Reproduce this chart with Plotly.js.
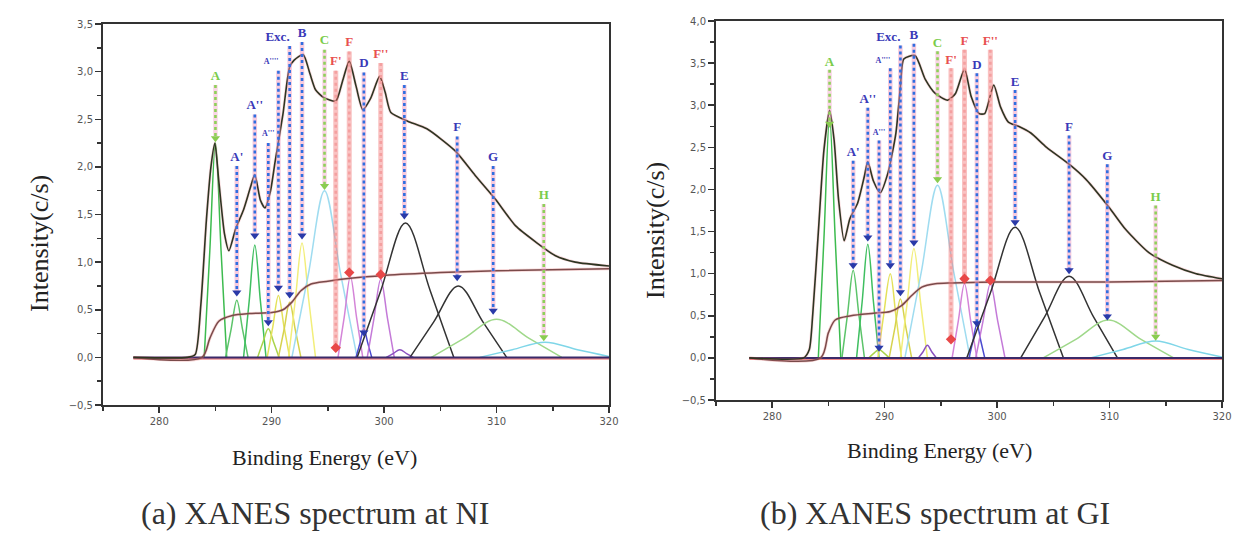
<!DOCTYPE html>
<html><head><meta charset="utf-8">
<script src="https://cdn.plot.ly/plotly-3.0.1.min.js"></script>
<style>html,body{margin:0;padding:0;background:#fff}#chart{width:1237px;height:537px}</style>
</head><body><div id="chart"></div>
<script>
// ================= (a) NI =================
const niEnergy = [277.7,282.5,283.2,283.7,284.2,284.6,284.95,285.3,285.8,286.2,286.8,287.5,288.1,288.5,289.0,289.4,289.9,290.3,291.0,291.6,292.0,292.8,293.4,293.9,294.6,295.7,296.3,296.9,297.5,298.1,298.8,299.6,300.1,300.6,302.1,303.8,306.3,308.1,309.9,311.7,313.5,315.2,317.0,320.0];
const niIntensity = [0,0,0.03,0.55,1.45,2.0,2.25,1.85,1.3,1.12,1.35,1.55,1.78,1.92,1.65,1.57,1.75,2.05,2.55,3.05,3.12,3.18,2.98,2.81,2.73,2.69,2.9,3.11,2.85,2.6,2.72,2.95,2.78,2.57,2.48,2.4,2.17,1.91,1.66,1.38,1.21,1.07,1.0,0.96];
const niStepX = [277.7,283.8,284.5,285.3,286.5,288.0,290.0,291.0,291.8,292.6,293.5,295.0,297.0,300.0,305.0,310.0,320.0];
const niStepY = [0,0,0.2,0.38,0.44,0.46,0.47,0.5,0.58,0.7,0.77,0.8,0.83,0.86,0.89,0.91,0.93];
const niBaseX = [277.7,320];
const niBaseY = [0,0];
const niCompX = [
 [284.0,284.5,285.0,285.5,286.0],
 [285.9,286.4,286.9,287.4,287.9],
 [287.5,288.0,288.5,289.0,289.5],
 [288.75,289.2,289.7,290.2,290.65],
 [289.6,290.1,290.6,291.1,291.6],
 [290.6,291.1,291.6,292.1,292.6],
 [291.5,292.1,292.7,293.3,293.9],
 [291.8,293.26,294.7,296.14,297.6],
 [295.9,296.45,297.0,297.55,298.1],
 [297.5,297.85,298.2,298.55,298.9],
 [298.5,299.1,299.7,300.3,300.9],
 [300.2,300.8,301.4,302.0,302.6],
 [297.6,299.7,301.9,304.1,306.2],
 [302.3,304.4,306.6,308.8,310.9],
 [304.2,307.1,310.0,312.9,315.8],
 [308.5,311.4,314.3,317.2,320.0]];
const niCompY = [
 [0,1.12,2.25,1.12,0],
 [0,0.3,0.6,0.3,0],
 [0,0.59,1.18,0.59,0],
 [0,0.15,0.3,0.15,0],
 [0,0.32,0.65,0.32,0],
 [0,0.29,0.58,0.29,0],
 [0,0.6,1.2,0.6,0],
 [0,0.87,1.75,0.87,0],
 [0,0.42,0.85,0.42,0],
 [0,0.15,0.3,0.15,0],
 [0,0.41,0.82,0.41,0],
 [0,0.04,0.08,0.04,0],
 [0,0.7,1.41,0.7,0],
 [0,0.37,0.75,0.37,0],
 [0,0.2,0.4,0.2,0],
 [0,0.08,0.16,0.08,0.01]];
const niCompColors = ['#3dbb4f','#5cc46a','#3fbf60','#a9d44a','#e4e15a','#d6d24e','#f2ee7a','#9fdcf0','#d484d8','#4a4ad0','#c47ad8','#8a50c0','#333333','#333333','#9fd88a','#7fd6e8'];
const niArrowLabels = ['A',"A'","A''","A'''","A''''",'Exc.','B','C',"F'",'F','D',"F''",'E','F','G','H'];
const niArrowX   = [285.0,286.9,288.5,289.7,290.6,291.6,292.7,294.7,295.7,296.9,298.2,299.7,301.8,306.5,309.7,314.2];
const niArrowTop = [2.95,2.1,2.64,2.34,3.1,3.36,3.4,3.32,3.1,3.3,3.08,3.18,2.95,2.41,2.1,1.7];
const niArrowEnd = [2.3,0.68,1.28,0.37,0.73,0.66,1.28,1.8,0.1,0.89,0.26,0.87,1.49,0.84,0.49,0.21];
const niArrowKind = ['g','b','b','b','b','b','b','g','r','r','b','r','b','b','b','g'];

// ================= (b) GI =================
const giEnergy = [277.96,282.8,283.3,283.6,284.1,284.6,285.1,285.5,285.9,286.4,286.9,287.6,288.2,288.5,289.0,289.6,290.3,291.0,291.4,291.7,292.7,293.6,294.5,295.6,296.3,297.1,297.7,298.4,298.9,299.7,300.3,301.0,301.9,303.0,304.4,306.4,307.9,310.0,311.4,313.5,315.6,317.7,320.0];
const giIntensity = [0,0,0.1,0.51,1.49,2.47,2.94,2.59,1.88,1.39,1.65,1.84,2.16,2.33,2.1,1.96,2.2,2.67,3.22,3.55,3.59,3.31,3.14,3.06,3.14,3.43,3.1,2.9,2.9,3.24,2.98,2.8,2.75,2.67,2.5,2.3,2.12,1.78,1.53,1.25,1.1,1.0,0.94];
const giStepX = [277.96,284.3,285.0,285.6,287.0,289.0,290.5,291.5,292.4,293.3,294.5,296.0,300.0,310.0,320.0];
const giStepY = [0,0,0.3,0.45,0.5,0.53,0.55,0.62,0.74,0.84,0.88,0.89,0.9,0.9,0.92];
const giBaseX = [277.96,320];
const giBaseY = [0,0];
const giCompX = [
 [284.1,284.6,285.1,285.6,286.1],
 [286.2,286.7,287.2,287.7,288.2],
 [287.5,288.0,288.5,289.0,289.5],
 [288.6,289.0,289.5,290.0,290.4],
 [289.4,289.9,290.5,291.0,291.5],
 [290.4,290.9,291.4,291.9,292.4],
 [291.4,292.0,292.6,293.2,293.8],
 [293.0,293.4,293.8,294.2,294.6],
 [291.8,293.26,294.7,296.14,297.6],
 [296.0,296.55,297.1,297.65,298.2],
 [297.5,297.85,298.2,298.55,298.9],
 [298.1,298.75,299.4,300.05,300.7],
 [297.3,299.4,301.6,303.8,305.9],
 [302.1,304.2,306.4,308.6,310.7],
 [304.1,307.0,309.9,312.8,315.7],
 [308.3,311.2,314.1,317.0,320.0]];
const giCompY = [
 [0,1.42,2.85,1.42,0],
 [0,0.52,1.04,0.52,0],
 [0,0.67,1.35,0.67,0],
 [0,0.05,0.1,0.05,0],
 [0,0.5,1.0,0.5,0],
 [0,0.35,0.7,0.35,0],
 [0,0.65,1.3,0.65,0],
 [0,0.07,0.15,0.07,0],
 [0,1.02,2.05,1.02,0],
 [0,0.44,0.88,0.44,0],
 [0,0.2,0.4,0.2,0],
 [0,0.44,0.88,0.44,0],
 [0,0.77,1.55,0.77,0],
 [0,0.48,0.97,0.48,0],
 [0,0.22,0.45,0.22,0],
 [0,0.1,0.2,0.1,0.01]];
const giCompColors = ['#3dbb4f','#5cc46a','#3fbf60','#a9d44a','#e4e15a','#d6d24e','#f2ee7a','#8a50c0','#9fdcf0','#d484d8','#4a4ad0','#c47ad8','#333333','#333333','#9fd88a','#7fd6e8'];
const giArrowLabels = ['A',"A'","A''","A'''","A''''",'Exc.','B','C',"F'",'F','D',"F''",'E','F','G','H'];
const giArrowX   = [285.1,287.2,288.5,289.5,290.5,291.4,292.6,294.7,295.9,297.1,298.2,299.4,301.6,306.4,309.8,314.1];
const giArrowTop = [3.51,2.43,3.06,2.67,3.53,3.8,3.82,3.73,3.53,3.75,3.47,3.75,3.27,2.73,2.39,1.9];
const giArrowEnd = [2.78,1.1,1.43,0.12,1.1,0.78,1.37,2.12,0.22,0.94,0.41,0.92,1.61,1.04,0.49,0.25];
const giArrowKind = ['g','b','b','b','b','b','b','g','r','r','b','r','b','b','b','g'];

// ================= build =================
const kindStyle = {
  b: {under:'rgba(240,150,190,0.5)', underW:4.5, dot:'#2f6fe0', marker:'#2a3aa8', sym:'triangle-down', label:'#3a3ab8'},
  g: {under:'rgba(240,150,190,0.4)', underW:4.5, dot:'#8fd05a', marker:'#8acc50', sym:'triangle-down', label:'#7acc4a'},
  r: {under:'rgba(240,110,110,0.42)', underW:5, dot:'#f4a0a0', marker:'#e84848', sym:'diamond', label:'#e85050'}
};

function panel(xa, ya, energy, inten, sx, sy, bx, by, cx, cy, cc, labels, ax, atop, aend, akind) {
  const tr = [];
  for (let i = 0; i < cx.length; i++) {
    tr.push({x: cx[i], y: cy[i], xaxis: xa, yaxis: ya, mode: 'lines', line: {color: cc[i], width: 1.5, shape: 'spline', smoothing: 1}, hoverinfo: 'skip'});
  }
  tr.push({x: bx, y: by.map(v => v - 0.015), xaxis: xa, yaxis: ya, mode: 'lines', line: {color: '#e86060', width: 1.2}, hoverinfo: 'skip'});
  tr.push({x: bx, y: by, xaxis: xa, yaxis: ya, mode: 'lines', line: {color: '#3a2a6a', width: 2}, hoverinfo: 'skip'});
  tr.push({x: sx, y: sy, xaxis: xa, yaxis: ya, mode: 'lines', line: {color: 'rgba(230,120,120,0.3)', width: 3, shape: 'spline', smoothing: 0.8}, hoverinfo: 'skip'});
  tr.push({x: sx, y: sy, xaxis: xa, yaxis: ya, mode: 'lines', line: {color: '#7a4a4a', width: 1.5, shape: 'spline', smoothing: 0.8}, hoverinfo: 'skip'});
  tr.push({x: energy, y: inten, xaxis: xa, yaxis: ya, mode: 'lines', line: {color: 'rgba(235,120,130,0.25)', width: 3, shape: 'spline', smoothing: 0.6}, hoverinfo: 'skip'});
  tr.push({x: energy, y: inten, xaxis: xa, yaxis: ya, mode: 'lines', line: {color: '#2e3522', width: 1.6, shape: 'spline', smoothing: 0.6}, hoverinfo: 'skip'});
  ['b','g','r'].forEach(k => {
    const st = kindStyle[k];
    const lx = [], ly = [], mx = [], my = [];
    for (let i = 0; i < ax.length; i++) {
      if (akind[i] !== k) continue;
      lx.push(ax[i], ax[i], null);
      ly.push(atop[i] - 0.09, aend[i], null);
      mx.push(ax[i]); my.push(aend[i]);
    }
    if (!mx.length) return;
    tr.push({x: lx, y: ly, xaxis: xa, yaxis: ya, mode: 'lines', line: {color: st.under, width: st.underW}, hoverinfo: 'skip'});
    tr.push({x: lx, y: ly, xaxis: xa, yaxis: ya, mode: 'lines', line: {color: st.dot, width: 2.6, dash: 'dot'}, hoverinfo: 'skip'});
    tr.push({x: mx, y: my, xaxis: xa, yaxis: ya, mode: 'markers', marker: {symbol: st.sym, size: 8, color: st.marker}, hoverinfo: 'skip'});
  });
  const small = labels.map(t => t === "A'''" || t === "A''''");
  tr.push({x: ax, y: atop, xaxis: xa, yaxis: ya, mode: 'text', text: labels,
    textposition: labels.map(t => (t === 'Exc.' || t === "A''''") ? 'middle left' : 'middle center'),
    textfont: {family: 'Liberation Serif, serif', size: small.map(s => s ? 8 : 13),
      color: akind.map(k => kindStyle[k].label), weight: 'bold'}, hoverinfo: 'skip'});
  return tr;
}

const traces = [].concat(
  panel('x', 'y', niEnergy, niIntensity, niStepX, niStepY, niBaseX, niBaseY, niCompX, niCompY, niCompColors, niArrowLabels, niArrowX, niArrowTop, niArrowEnd, niArrowKind),
  panel('x2', 'y2', giEnergy, giIntensity, giStepX, giStepY, giBaseX, giBaseY, giCompX, giCompY, giCompColors, giArrowLabels, giArrowX, giArrowTop, giArrowEnd, giArrowKind)
);

const W = 1237, H = 537;
function xax(d0, d1, anchor) {
  return {domain: [d0 / W, d1 / W], anchor: anchor, range: [275, 320], dtick: 10, tick0: 0,
    showline: true, linecolor: '#333', linewidth: 2, mirror: true, ticks: 'outside', ticklen: 6, tickwidth: 1.5, tickcolor: '#333',
    minor: {dtick: 5, ticks: 'outside', ticklen: 4, tickcolor: '#333'},
    showgrid: false, zeroline: false, automargin: false,
    tickfont: {family: 'DejaVu Sans', size: 10, color: '#555'}};
}
function yax(top, bottom, anchor, ymax) {
  return {domain: [1 - bottom / H, 1 - top / H], anchor: anchor, range: [-0.5, ymax], dtick: 0.5, tick0: 0, tickformat: '.1f',
    showline: true, linecolor: '#333', linewidth: 2, mirror: true, ticks: 'outside', ticklen: 6, tickwidth: 1.5, tickcolor: '#333',
    minor: {dtick: 0.25, ticks: 'outside', ticklen: 4, tickcolor: '#333'},
    showgrid: false, zeroline: false, automargin: false,
    tickfont: {family: 'DejaVu Sans', size: 10, color: '#555'}};
}

const ann = (text, px, py, size, extra) => Object.assign({text: text, xref: 'paper', yref: 'paper', x: px / W, y: 1 - py / H,
  xanchor: 'center', yanchor: 'middle', showarrow: false, font: {family: 'Liberation Serif, serif', size: size, color: '#222'}}, extra || {});

const layout = {
  width: W, height: H, margin: {l: 0, r: 0, t: 0, b: 0},
  paper_bgcolor: '#fff', plot_bgcolor: '#fff', showlegend: false,
  separators: ',.',
  xaxis: xax(103, 609, 'y'), yaxis: yax(24, 405, 'x', 3.5),
  xaxis2: xax(716, 1222, 'y2'), yaxis2: yax(21, 400, 'x2', 4.0),
  annotations: [
    ann('Binding Energy (eV)', 324, 457, 22),
    ann('Binding Energy (eV)', 939, 451, 22),
    ann('Intensity(c/s)', 40, 244, 26, {textangle: -90}),
    ann('Intensity(c/s)', 655, 231, 26, {textangle: -90}),
    ann('(a) XANES spectrum at NI', 315, 513, 32, {font: {family: 'Liberation Serif, serif', size: 32, color: '#333'}}),
    ann('(b) XANES spectrum at GI', 935, 513, 32, {font: {family: 'Liberation Serif, serif', size: 32, color: '#333'}})
  ]
};

Plotly.newPlot('chart', traces, layout, {staticPlot: true, displayModeBar: false});
</script>
</body></html>
